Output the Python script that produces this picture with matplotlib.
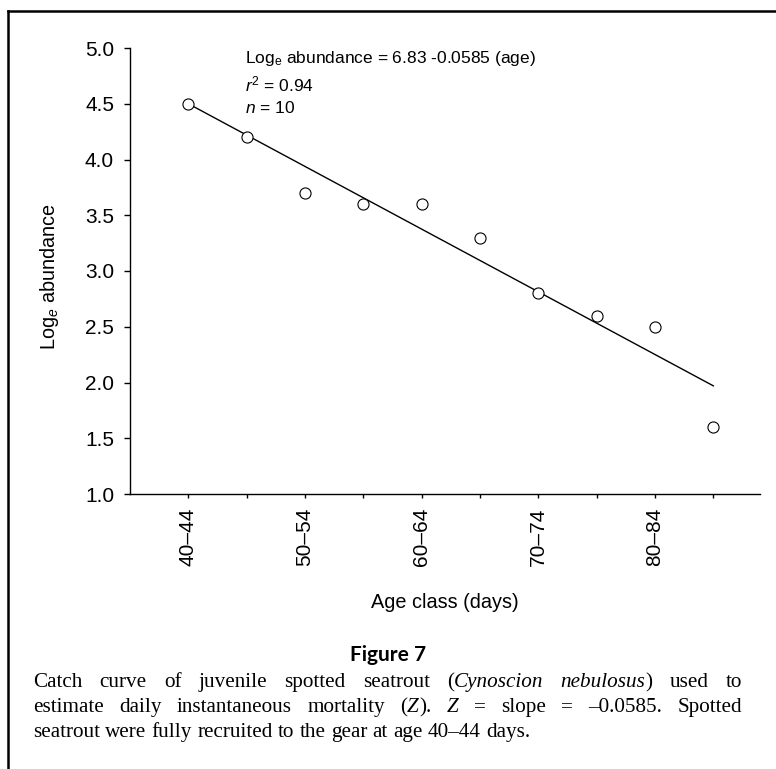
import matplotlib
matplotlib.use("Agg")
import matplotlib.pyplot as plt
from matplotlib.lines import Line2D
import numpy as np

# ---- data ----
age_classes = ["40–44", "45–49", "50–54", "55–59", "60–64",
               "65–69", "70–74", "75–79", "80–84", "85–89"]
log_abundance = [4.5, 4.2, 3.7, 3.6, 3.6, 3.3, 2.8, 2.6, 2.5, 1.6]
fit_values = [4.50, 1.97]          # regression line at first and last class
y_ticks = [1.0, 1.5, 2.0, 2.5, 3.0, 3.5, 4.0, 4.5, 5.0]

eq_text = r"Log$_{\mathrm{e}}$ abundance = 6.83 -0.0585 (age)"
r2_text = r"$r^2$ = 0.94"
n_text = r"$n$ = 10"

caption_title = "Figure 7"
caption_lines = [
    [[("Catch", "normal")], [("curve", "normal")], [("of", "normal")], [("juvenile", "normal")],
     [("spotted", "normal")], [("seatrout", "normal")], [("(", "normal"), ("Cynoscion", "italic")],
     [("nebulosus", "italic"), (")", "normal")], [("used", "normal")], [("to", "normal")]],
    [[("estimate", "normal")], [("daily", "normal")], [("instantaneous", "normal")],
     [("mortality", "normal")], [("(", "normal"), ("Z", "italic"), (").", "normal")],
     [("Z", "italic")], [("=", "normal")], [("slope", "normal")], [("=", "normal")],
     [("–0.0585.", "normal")], [("Spotted", "normal")]],
    [[("seatrout", "normal")], [("were", "normal")], [("fully", "normal")], [("recruited", "normal")],
     [("to", "normal")], [("the", "normal")], [("gear", "normal")], [("at", "normal")],
     [("age", "normal")], [("40–44", "normal")], [("days.", "normal")]],
]

# ---- style ----
plt.rcParams["font.family"] = ["Liberation Sans", "DejaVu Sans"]
plt.rcParams["mathtext.fontset"] = "custom"
plt.rcParams["mathtext.rm"] = "Liberation Sans"
plt.rcParams["mathtext.it"] = "Liberation Sans:italic"

W, H = 776, 769
fig = plt.figure(figsize=(W / 100, H / 100), dpi=100)
ax = fig.add_axes([130 / W, 1 - 494 / H, 630 / W, 446 / H])

x = np.arange(len(age_classes))
ax.plot([x[0], x[-1]], fit_values, color="black", lw=1.0, zorder=2)
ax.plot(x, log_abundance, linestyle="none", marker="o", ms=8, mfc="white",
        mec="black", mew=0.8, zorder=3)

ax.set_xlim(-1, 9.8)
ax.set_ylim(1, 5)
ax.set_xticks(x)
ax.set_xticklabels([c if i % 2 == 0 else "" for i, c in enumerate(age_classes)],
                   rotation=90, fontsize=15)
ax.set_yticks(y_ticks)
ax.set_yticklabels([f"{v:.1f}" for v in y_ticks], fontsize=15)
ax.tick_params(axis="y", direction="out", length=4.5, width=1, pad=7)
ax.tick_params(axis="x", direction="out", length=3, width=1, pad=6.5)
for s in ["top", "right"]:
    ax.spines[s].set_visible(False)
for s in ["left", "bottom"]:
    ax.spines[s].set_linewidth(1.0)

ax.set_xlabel("Age class (days)", fontsize=14.3)
ax.xaxis.set_label_coords(0.5, (494 - 602) / 446)
ax.xaxis.label.set_va("center")
ax.set_ylabel(r"Log$_{e}$ abundance", fontsize=14.3)
ax.yaxis.set_label_coords((50 - 130) / 630, (494 - 277) / 446)
ax.yaxis.label.set_va("center")

ax.text((245 - 130) / 630, (494 - 58) / 446, eq_text, transform=ax.transAxes,
        fontsize=12.5, va="center", ha="left")
ax.text((245 - 130) / 630, (494 - 84) / 446, r2_text, transform=ax.transAxes,
        fontsize=12.5, va="center", ha="left")
ax.text((245 - 130) / 630, (494 - 108) / 446, n_text, transform=ax.transAxes,
        fontsize=12.5, va="center", ha="left")

# ---- frame ----
fig.add_artist(Line2D([8 / W, 1.0], [1 - 11 / H, 1 - 11 / H], color="black", lw=1.8,
                      transform=fig.transFigure, solid_capstyle="projecting"))
fig.add_artist(Line2D([8 / W, 8 / W], [1 - 11 / H, 0], color="black", lw=1.8,
                      transform=fig.transFigure, solid_capstyle="projecting"))

# ---- caption ----
fig.text(388 / W, 1 - 655 / H, caption_title, fontsize=15, fontweight="bold",
         family=["Lato", "DejaVu Sans"], ha="center", va="center")

renderer = fig.canvas.get_renderer()
cap_size = 15.2
cap_family = ["Liberation Serif", "DejaVu Serif"]
x0, x1 = 33, 742
baselines = [687, 712, 737]
justify = [True, True, False]


def measure(txt, style):
    t = fig.text(0, 0, txt, fontsize=cap_size, family=cap_family, style=style)
    w = t.get_window_extent(renderer).width
    t.remove()
    return w


space_w = measure("a a", "normal") - measure("aa", "normal")
for words, yb, just in zip(caption_lines, baselines, justify):
    widths = [[measure(t, s) for t, s in w] for w in words]
    word_w = [sum(ws) for ws in widths]
    if just and len(words) > 1:
        gap = (x1 - x0 - sum(word_w)) / (len(words) - 1)
    else:
        gap = space_w
    xp = x0
    for w, ws in zip(words, widths):
        xs = xp
        for (t, s), sw in zip(w, ws):
            fig.text(xs / W, 1 - yb / H, t, fontsize=cap_size, family=cap_family,
                     style=s, ha="left", va="baseline")
            xs += sw
        xp += sum(ws) + gap

fig.savefig("out.png", dpi=100)
